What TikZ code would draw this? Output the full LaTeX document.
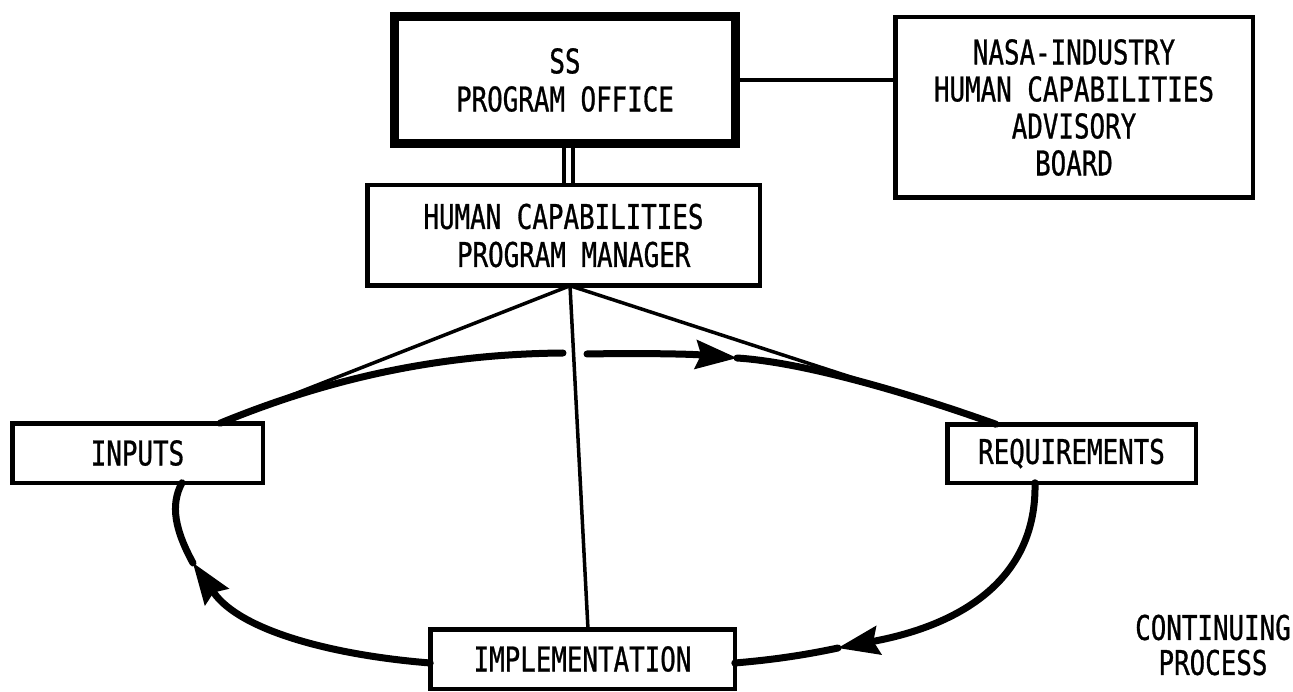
\documentclass[tikz,border=0pt]{standalone}
\usepackage{fontspec}
\setmainfont{DejaVu Sans Mono}[FakeStretch=0.76,FakeBold=0.8]
\usetikzlibrary{arrows.meta,calc}
\begin{document}
\begin{tikzpicture}[x=1pt,y=-1pt,
  box/.style={draw, line width=4.5pt, rectangle, inner sep=0pt, outer sep=0pt, align=center,
              font=\fontsize{34pt}{38pt}\selectfont},
  thinline/.style={line width=3.5pt, line cap=round},
  flow/.style={line width=7pt, line cap=round, line join=round},
  tip/.style={-{Stealth[length=42pt,width=30pt,inset=6pt,line width=0pt]}}
]
\useasboundingbox (0,0) rectangle (1293,692);
\fill[white] (0,0) rectangle (1293,692);

\node[box, line width=9pt, minimum width=341pt, minimum height=127pt] (ss) at (565,80) {SS\\PROGRAM OFFICE};
\node[box, minimum width=392.5pt, minimum height=100.5pt] (pm) at (563.5,235.5) {HUMAN CAPABILITIES\\\hspace*{0.6em}PROGRAM MANAGER};
\node[box, minimum width=357.5pt, minimum height=180.5pt, font=\fontsize{34pt}{37pt}\selectfont] (nasa) at (1074,107.5) {NASA-INDUSTRY\\HUMAN CAPABILITIES\\ADVISORY\\BOARD};
\node[box, minimum width=250.5pt, minimum height=59.5pt] (inp) at (137.5,453) {INPUTS};
\node[box, minimum width=248.5pt, minimum height=58.5pt] (req) at (1071.5,453.5) {REQUIREMENTS};
\node[box, minimum width=304.5pt, minimum height=59.5pt] (impl) at (582.5,659) {IMPLEMENTATION};
\node[align=center, inner sep=0pt, font=\fontsize{34pt}{35pt}\selectfont] (cont) at (1213,645) {CONTINUING\\PROCESS};

% organisation links
\draw[line width=4pt] (ss.east) -- (ss.east -| nasa.west);
\draw[line width=4pt, double, double distance=5pt] ($(ss.south)+(3.5,4.5)$) -- ($(pm.north)+(5,-2.25)$);

% lines from the program manager
\coordinate (apex) at ($(pm.south)+(6.5,0)$);
\draw[thinline] (apex) -- ($(inp.north)+(82.5,0)$);
\draw[thinline] (apex) -- ($(req.north)+(-75.5,0)$);
\draw[thinline] (apex) -- ($(impl.north)+(5.5,0)$);

% continuing process loop
\draw[flow] ($(inp.north)+(82.5,0)$) .. controls (330,378) and (440,354) .. (563,353);
\draw[flow, tip] (587,354) .. controls (640,353) and (690,354) .. (737,358);
\draw[flow] (737,358) .. controls (800,362) and (900,390) .. ($(req.north)+(-75.5,0)$);

\draw[flow, tip] ($(req.south)+(-36.5,0)$) .. controls (1037,580) and (960,625) .. (838,648);
\draw[flow] (838,648) .. controls (800,656) and (770,660) .. ($(impl.east)+(0,4)$);

\draw[flow, tip] ($(impl.west)+(0,4)$) .. controls (330,655) and (240,630) .. (193,563);
\draw[flow] (193,563) .. controls (175,530) and (170,505) .. ($(inp.south)+(44.5,0)$);
\end{tikzpicture}
\end{document}
